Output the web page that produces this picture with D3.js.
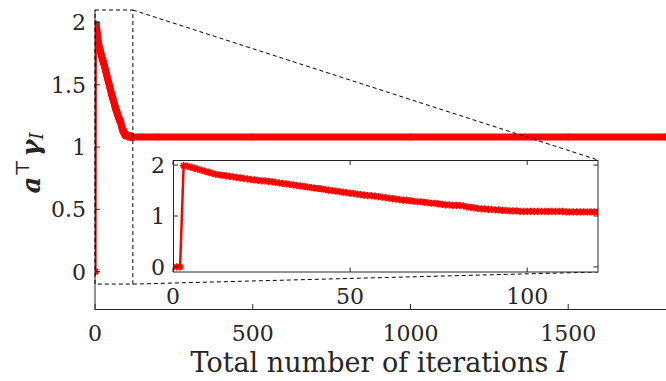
<!DOCTYPE html>
<html>
<head>
<meta charset="utf-8">
<script src="https://cdn.jsdelivr.net/npm/d3@7/dist/d3.min.js"></script>
<style>
    body { margin: 0; background: #fff; }
</style>
</head>
<body>
<script>
// value of a^T gamma_I for each iteration 1..120
var gammaValues = [
    0, 0, 1.99, 1.98, 1.96, 1.94, 1.92, 1.90, 1.88, 1.86,
    1.84, 1.82, 1.81, 1.80, 1.79, 1.78, 1.77, 1.76, 1.75, 1.74,
    1.73, 1.72, 1.71, 1.70, 1.69, 1.69, 1.68, 1.67, 1.66, 1.65,
    1.64, 1.63, 1.62, 1.61, 1.60, 1.59, 1.58, 1.57, 1.56, 1.55,
    1.54, 1.53, 1.52, 1.51, 1.50, 1.49, 1.48, 1.47, 1.46, 1.45,
    1.44, 1.43, 1.42, 1.41, 1.40, 1.40, 1.39, 1.38, 1.37, 1.36,
    1.35, 1.34, 1.33, 1.32, 1.31, 1.31, 1.30, 1.29, 1.28, 1.28,
    1.27, 1.26, 1.25, 1.25, 1.24, 1.23, 1.22, 1.22, 1.21, 1.21,
    1.21, 1.20, 1.18, 1.17, 1.16, 1.15, 1.14, 1.14, 1.13, 1.13,
    1.12, 1.12, 1.11, 1.11, 1.10, 1.10, 1.10, 1.09, 1.09, 1.09,
    1.09, 1.09, 1.09, 1.09, 1.09, 1.09, 1.09, 1.09, 1.09, 1.09,
    1.08, 1.08, 1.08, 1.08, 1.08, 1.08, 1.08, 1.08, 1.08, 1.08
];
// later iterations (flat part of the main plot)
var tailIters = [200, 500, 1000, 1500, 1810];
var tailValues = [1.08, 1.08, 1.08, 1.08, 1.08];

var mainXTicks = [0, 500, 1000, 1500];
var mainYTicks = [0, 0.5, 1, 1.5, 2];
var insetXTicks = [0, 50, 100];
var insetYTicks = [0, 1, 2];
var zoomX = [0, 120];
var zoomY = [-0.1, 2.1];

var W = 666, H = 381;
var axisColor = "#262626";
var red = "#ff0000";
var serif = "'DejaVu Serif', serif";
var tickSize = 22;

var svg = d3.select("body").append("svg").attr("width", W).attr("height", H);

var pts = gammaValues.map(function (v, i) { return { x: i + 1, y: v }; });
var allPts = pts.concat(tailIters.map(function (t, i) { return { x: t, y: tailValues[i] }; }));

// ---- main axes ----
var x = d3.scaleLinear().domain([0, 1810]).range([95, 666]);
var y = d3.scaleLinear().domain([-0.3, 2.1]).range([309, 10]);

var star = function (r) {
    var d = r * 0.72;
    return "M" + (-r) + ",0H" + r + "M0," + (-r) + "V" + r +
        "M" + (-d) + "," + (-d) + "L" + d + "," + d +
        "M" + (-d) + "," + d + "L" + d + "," + (-d);
};

svg.append("clipPath").attr("id", "mainClip").append("rect")
    .attr("x", 95).attr("y", 0).attr("width", W - 95).attr("height", 309);

var main = svg.append("g").attr("clip-path", "url(#mainClip)");
var line = d3.line().x(function (d) { return x(d.x); }).y(function (d) { return y(d.y); });

main.append("path").datum(allPts).attr("d", line)
    .attr("fill", "none").attr("stroke", red).attr("stroke-width", 2);
// dense markers merge into a band
main.append("path").datum(allPts.filter(function (d) { return d.x >= 3; })).attr("d", line)
    .attr("fill", "none").attr("stroke", red).attr("stroke-width", 7);
main.selectAll("path.m").data(allPts).enter().append("path").attr("class", "m")
    .attr("transform", function (d) { return "translate(" + x(d.x) + "," + y(d.y) + ")"; })
    .attr("d", star(3.5)).attr("stroke", red).attr("stroke-width", 1.5).attr("fill", "none");

// main axis lines + ticks (inward)
var ax = svg.append("g").attr("stroke", axisColor).attr("stroke-width", 1).attr("fill", "none");
ax.append("line").attr("x1", 95).attr("x2", 95).attr("y1", y(2.1)).attr("y2", 309.5);
ax.append("line").attr("x1", 95).attr("x2", W).attr("y1", 309.5).attr("y2", 309.5);
mainYTicks.forEach(function (t) {
    ax.append("line").attr("x1", 95).attr("x2", 100).attr("y1", y(t)).attr("y2", y(t));
});
mainXTicks.forEach(function (t) {
    ax.append("line").attr("x1", x(t)).attr("x2", x(t)).attr("y1", 309.5).attr("y2", 304);
});

svg.selectAll("text.my").data(mainYTicks).enter().append("text").attr("class", "my")
    .attr("x", 86).attr("y", function (d) { return y(d); }).attr("dy", "0.36em")
    .attr("text-anchor", "end").attr("font-size", tickSize).attr("fill", axisColor)
    .style("font-family", serif).text(function (d) { return d; });
svg.selectAll("text.mx").data(mainXTicks).enter().append("text").attr("class", "mx")
    .attr("x", function (d) { return x(d); }).attr("y", 341)
    .attr("text-anchor", "middle").attr("font-size", tickSize).attr("fill", axisColor)
    .style("font-family", serif).text(function (d) { return d; });

var xl = svg.append("text").attr("x", 379).attr("y", 372).attr("text-anchor", "middle")
    .attr("font-size", 27).attr("fill", axisColor).style("font-family", serif);
xl.append("tspan").text("Total number of iterations ");
xl.append("tspan").attr("font-style", "italic").text("I");

var yl = svg.append("text").attr("transform", "translate(40,163) rotate(-90)")
    .attr("text-anchor", "middle").attr("font-size", 26).attr("fill", axisColor)
    .style("font-family", serif);
yl.append("tspan").attr("font-weight", "bold").attr("font-style", "italic").text("a");
yl.append("tspan").attr("font-size", 19).attr("dy", -11).text("\u22A4");
yl.append("tspan").attr("font-weight", "bold").attr("font-style", "italic").attr("dy", 11).attr("dx", 2).text("\u03B3");
yl.append("tspan").attr("font-style", "italic").attr("font-size", 18).attr("dy", 3).text("I");

// ---- zoom rectangle and connectors ----
var dash = svg.append("g").attr("stroke", "#000").attr("stroke-width", 1)
    .attr("stroke-dasharray", "4,3").attr("fill", "none");
dash.append("rect").attr("x", x(zoomX[0])).attr("y", y(zoomY[1]))
    .attr("width", x(zoomX[1]) - x(zoomX[0])).attr("height", y(zoomY[0]) - y(zoomY[1]));

// ---- inset ----
var ix = d3.scaleLinear().domain(zoomX).range([173, 598]);
var iy = d3.scaleLinear().domain(zoomY).range([272, 160]);

dash.append("line").attr("x1", x(zoomX[1])).attr("y1", y(zoomY[1])).attr("x2", ix(zoomX[1])).attr("y2", iy(zoomY[1]));
dash.append("line").attr("x1", x(zoomX[1])).attr("y1", y(zoomY[0])).attr("x2", ix(zoomX[1])).attr("y2", iy(zoomY[0]));

svg.append("rect").attr("x", 173).attr("y", 160).attr("width", 425).attr("height", 112).attr("fill", "#fff");

svg.append("clipPath").attr("id", "insetClip").append("rect")
    .attr("x", 173).attr("y", 160).attr("width", 425).attr("height", 112);
var inset = svg.append("g").attr("clip-path", "url(#insetClip)");
var iline = d3.line().x(function (d) { return ix(d.x); }).y(function (d) { return iy(d.y); });
inset.append("path").datum(pts).attr("d", iline)
    .attr("fill", "none").attr("stroke", red).attr("stroke-width", 2.5);
inset.selectAll("path.m").data(pts).enter().append("path").attr("class", "m")
    .attr("transform", function (d) { return "translate(" + ix(d.x) + "," + iy(d.y) + ")"; })
    .attr("d", star(3.6)).attr("stroke", red).attr("stroke-width", 1.6).attr("fill", "none");

var ib = svg.append("g").attr("stroke", axisColor).attr("stroke-width", 1).attr("fill", "none");
ib.append("rect").attr("x", 173.5).attr("y", 160.5).attr("width", 424.5).attr("height", 111.5);
insetYTicks.forEach(function (t) {
    ib.append("line").attr("x1", 173.5).attr("x2", 178).attr("y1", iy(t)).attr("y2", iy(t));
    ib.append("line").attr("x1", 598).attr("x2", 593.5).attr("y1", iy(t)).attr("y2", iy(t));
});
insetXTicks.forEach(function (t) {
    ib.append("line").attr("x1", ix(t)).attr("x2", ix(t)).attr("y1", 272).attr("y2", 267.5);
    ib.append("line").attr("x1", ix(t)).attr("x2", ix(t)).attr("y1", 160.5).attr("y2", 165);
});

svg.selectAll("text.iy").data(insetYTicks).enter().append("text").attr("class", "iy")
    .attr("x", 165).attr("y", function (d) { return iy(d); }).attr("dy", "0.36em")
    .attr("text-anchor", "end").attr("font-size", tickSize).attr("fill", axisColor)
    .style("font-family", serif).text(function (d) { return d; });
svg.selectAll("text.ix").data(insetXTicks).enter().append("text").attr("class", "ix")
    .attr("x", function (d) { return ix(d); }).attr("y", 304)
    .attr("text-anchor", "middle").attr("font-size", tickSize).attr("fill", axisColor)
    .style("font-family", serif).text(function (d) { return d; });
</script>
</body>
</html>
